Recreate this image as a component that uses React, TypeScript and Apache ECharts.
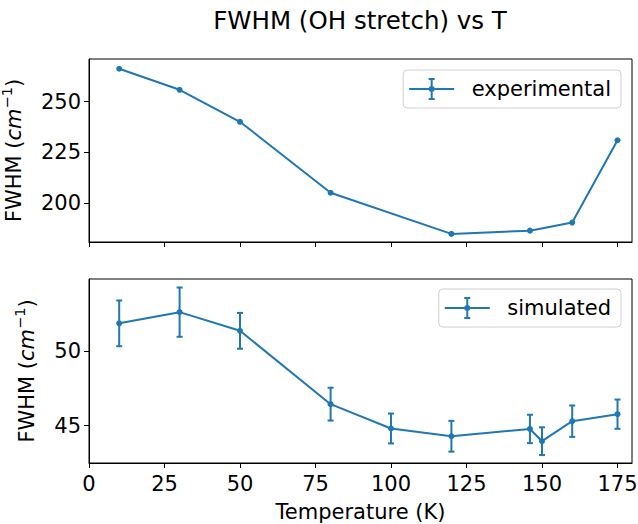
import React, { useEffect, useRef } from "react";
import * as echarts from "echarts";

const expT = [10, 30, 50, 80, 120, 146, 160, 175];
const expFWHM = [266.2, 255.8, 240.0, 205.0, 184.7, 186.3, 190.3, 230.9];
const simT = [10, 30, 50, 80, 100, 120, 146, 150, 160, 175];
const simFWHM = [51.84, 52.59, 51.34, 46.43, 44.8, 44.28, 44.77, 43.95, 45.29, 45.76];
const simErr = [1.53, 1.65, 1.2, 1.1, 1.0, 1.03, 0.95, 0.93, 1.05, 0.98];
const xTicks = [0, 25, 50, 75, 100, 125, 150, 175];
const yTicksTop = [200, 225, 250];
const yTicksBottom = [45, 50];

const C = "#1f77b4";
const FONT = "DejaVu Sans";
const FS = 21;

const LEGEND_ICON =
  "path://M0,10 H45 V12 H0 Z M21.5,0 H23.5 V22 H21.5 Z M19.5,0 H25.5 V2 H19.5 Z M19.5,20 H25.5 V22 H19.5 Z M25.5,11 A3,3 0 1,1 19.5,11 A3,3 0 1,1 25.5,11 Z";

const yName = "{a|FWHM (}{i|cm}{s|−1}{a|)}";
const yRich = {
  a: { fontSize: FS, fontFamily: FONT, color: "#000", lineHeight: 29 },
  i: { fontSize: FS, fontFamily: FONT, fontStyle: "italic", color: "#000", lineHeight: 29 },
  s: { fontSize: 14.5, fontFamily: FONT, color: "#000", verticalAlign: "top", lineHeight: 15 },
};

export default function App() {
  const ref = useRef<HTMLDivElement>(null);
  useEffect(() => {
    if (!ref.current) return;
    const chart = echarts.init(ref.current, null, { renderer: "svg" });
    const axisText = { fontSize: FS, fontFamily: FONT, color: "#000" };
    const tick = { show: true, length: 5, lineStyle: { color: "#000", width: 1 } };
    const legendBase = {
      right: 17,
      orient: "horizontal",
      itemWidth: 45,
      itemHeight: 22,
      padding: [8, 10, 8, 6],
      borderColor: "#d0d0d0",
      borderWidth: 1,
      borderRadius: 4,
      backgroundColor: "rgba(255,255,255,0.8)",
      textStyle: { fontSize: FS, fontFamily: FONT, color: "#000", padding: [0, 0, 0, 12.5] },
      selectedMode: false,
    };
    chart.setOption({
      animation: false,
      backgroundColor: "#fff",
      title: {
        text: "FWHM (OH stretch) vs T",
        left: 355,
        top: 3,
        textAlign: "center",
        textStyle: { fontSize: 24.5, fontWeight: "normal", fontFamily: FONT, color: "#000" },
      },
      legend: [
        { ...legendBase, top: 70, data: [{ name: "experimental", icon: LEGEND_ICON }] },
        { ...legendBase, top: 289, data: [{ name: "simulated", icon: LEGEND_ICON }] },
      ],
      grid: [
        { left: 89, top: 59, width: 543, height: 183, show: true, borderColor: "#000", borderWidth: 1, backgroundColor: "transparent", outerBoundsMode: "none" },
        { left: 89, top: 279, width: 543, height: 184, show: true, borderColor: "#000", borderWidth: 1, backgroundColor: "transparent", outerBoundsMode: "none" },
      ],
      xAxis: [
        {
          type: "value", gridIndex: 0, min: 0, max: 179.8,
          axisLine: { show: true, lineStyle: { color: "#000" } },
          axisTick: { ...tick, customValues: xTicks },
          axisLabel: { show: false, customValues: xTicks },
          splitLine: { show: false },
        },
        {
          type: "value", gridIndex: 1, min: 0, max: 179.8,
          name: "Temperature (K)", nameLocation: "middle", nameGap: 38,
          nameTextStyle: axisText,
          axisLine: { show: true, lineStyle: { color: "#000" } },
          axisTick: { ...tick, customValues: xTicks },
          axisLabel: { ...axisText, margin: 10, customValues: xTicks },
          splitLine: { show: false },
        },
      ],
      yAxis: [
        {
          type: "value", gridIndex: 0, min: 180.7, max: 271.0,
          name: yName, nameLocation: "middle", nameGap: 61, nameRotate: 90,
          nameTextStyle: { ...axisText, rich: yRich },
          axisLine: { show: true, lineStyle: { color: "#000" } },
          axisTick: { ...tick, customValues: yTicksTop },
          axisLabel: { ...axisText, margin: 8, customValues: yTicksTop },
          splitLine: { show: false },
        },
        {
          type: "value", gridIndex: 1, min: 42.49, max: 54.81,
          name: yName, nameLocation: "middle", nameGap: 48, nameRotate: 90,
          nameTextStyle: { ...axisText, rich: yRich },
          axisLine: { show: true, lineStyle: { color: "#000" } },
          axisTick: { ...tick, customValues: yTicksBottom },
          axisLabel: { ...axisText, margin: 8, customValues: yTicksBottom },
          splitLine: { show: false },
        },
      ],
      series: [
        {
          name: "experimental", type: "line", xAxisIndex: 0, yAxisIndex: 0,
          data: expT.map((t, i) => [t, expFWHM[i]]),
          symbol: "circle", symbolSize: 6, showSymbol: true,
          itemStyle: { color: C }, lineStyle: { color: C, width: 2 },
        },
        {
          name: "simulated errorbars", type: "custom", xAxisIndex: 1, yAxisIndex: 1,
          data: simT.map((t, i) => [t, simFWHM[i], simErr[i]]),
          encode: { x: 0, y: 1 },
          renderItem: (params: any, api: any) => {
            const x = api.value(0), y = api.value(1), e = api.value(2);
            const top = api.coord([x, y + e]);
            const bot = api.coord([x, y - e]);
            const cap = 3;
            const st = { stroke: C, lineWidth: 2 };
            return {
              type: "group",
              children: [
                { type: "line", shape: { x1: top[0], y1: top[1], x2: bot[0], y2: bot[1] }, style: st },
                { type: "line", shape: { x1: top[0] - cap, y1: top[1], x2: top[0] + cap, y2: top[1] }, style: st },
                { type: "line", shape: { x1: bot[0] - cap, y1: bot[1], x2: bot[0] + cap, y2: bot[1] }, style: st },
              ],
            };
          },
        },
        {
          name: "simulated", type: "line", xAxisIndex: 1, yAxisIndex: 1,
          data: simT.map((t, i) => [t, simFWHM[i]]),
          symbol: "circle", symbolSize: 6, showSymbol: true,
          itemStyle: { color: C }, lineStyle: { color: C, width: 2 },
        },
      ],
    });
    return () => chart.dispose();
  }, []);
  return <div ref={ref} style={{ position: "absolute", left: 0, top: 0, width: 638, height: 524 }} />;
}
